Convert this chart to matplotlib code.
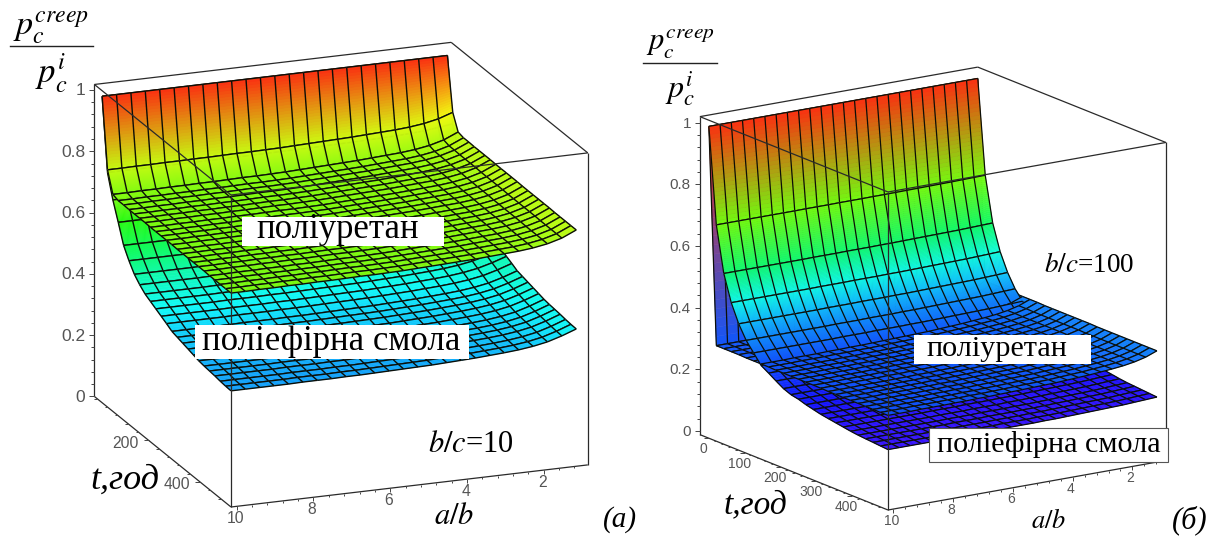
import numpy as np
import matplotlib
matplotlib.use('Agg')
import matplotlib.pyplot as plt
from matplotlib.colors import hsv_to_rgb
from matplotlib.collections import LineCollection
from matplotlib.patches import Rectangle
from mpl_toolkits.mplot3d import proj3d
from mpl_toolkits.mplot3d.art3d import Poly3DCollection, Line3DCollection

plt.rcParams['font.family'] = ['Liberation Serif', 'DejaVu Serif']
plt.rcParams['mathtext.fontset'] = 'stix'

W, H = 1218, 539

# mesh of the maple plots, a/b from 10 down to 1, t from 0 to 500
ab_grid = np.linspace(10, 1, 25)
t_grid = np.linspace(0, 500, 25)

# panel (a) b/c=10 : decay with t at a/b=10, then the t=500 edge along a/b
pu_t_a = [1.0, .774, .708, .702, .702, .701, .701, .701, .701, .700, .700, .700, .700,
          .700, .699, .699, .699, .699, .699, .699, .698, .698, .698, .698, .698]
pu_ab_a = [.698, .698, .699, .699, .700, .700, .701, .701, .702, .703, .703, .704, .705,
           .707, .709, .711, .713, .715, .718, .721, .724, .729, .737, .750, .771]
pe_t_a = [1.0, .765, .69, .631, .57, .534, .504, .484, .468, .458, .448, .438, .428,
          .417, .412, .407, .402, .397, .392, .389, .387, .385, .382, .380, .379]
pe_ab_a = [.379, .379, .379, .379, .379, .380, .380, .380, .381, .381, .382, .383, .384,
           .385, .386, .388, .390, .392, .395, .398, .402, .408, .417, .431, .448]

# panel (b) b/c=100
pu_t_b = [1.0, .298, .298, .298, .298, .297, .297, .297, .297, .296, .296, .296, .296,
          .296, .296, .296, .295, .295, .295, .295, .295, .295, .295, .295, .295]
pu_ab_b = [.295, .295, .295, .296, .296, .296, .297, .297, .298, .298, .299, .300, .301,
           .302, .303, .304, .306, .308, .310, .313, .316, .320, .326, .335, .349]
pe_t_b = [1.0, .690, .542, .457, .398, .354, .323, .292, .277, .261, .246, .236, .231,
          .223, .217, .211, .207, .203, .199, .195, .192, .190, .188, .186, .184]
pe_ab_b = [.184, .184, .184, .184, .184, .184, .184, .184, .185, .185, .185, .186, .186,
           .186, .187, .187, .188, .189, .190, .191, .192, .193, .195, .197, .199]

z_ticks = [0, .2, .4, .6, .8, 1]
z_tick_labels = ['0', '0.2', '0.4', '0.6', '0.8', '1']
ab_ticks = [10, 8, 6, 4, 2]

# hue at some heights
hue_z = [.18, .3, .38, .45, .54, .7, .85, 1.0]
hue_deg = [250, 222, 203, 178, 145, 92, 55, 8]


def surface(zt, zab):
    # t profile scaled along a/b so that the t=500 edge is met, ridge stays at 1
    zt, zab = np.array(zt), np.array(zab)
    k = (1 - zab) / (1 - zab[0])
    return 1 - np.outer(1 - zt, k)


def zcolor(z):
    hue = np.interp(z, hue_z, hue_deg) / 360.
    return hsv_to_rgb(np.stack([hue, np.full_like(hue, .93), np.full_like(hue, .98)], axis=-1))


def drawRow(ax, Z, i, order, mesh_lw):
    # one strip of cells, vertex colours blended across the cell like maple does
    n = 24 if abs(Z[i, 0] - Z[i + 1, 0]) > .03 else 4
    C = zcolor(Z)
    verts, cols = [], []
    for j in range(len(ab_grid) - 1):
        c0 = (C[i, j] + C[i, j + 1]) / 2
        c1 = (C[i + 1, j] + C[i + 1, j + 1]) / 2
        for k in range(n):
            f0, f1 = k / n, (k + 1) / n
            t0 = t_grid[i] + f0 * (t_grid[i + 1] - t_grid[i])
            t1 = t_grid[i] + f1 * (t_grid[i + 1] - t_grid[i])
            z00 = Z[i, j] + f0 * (Z[i + 1, j] - Z[i, j])
            z01 = Z[i, j + 1] + f0 * (Z[i + 1, j + 1] - Z[i, j + 1])
            z10 = Z[i, j] + f1 * (Z[i + 1, j] - Z[i, j])
            z11 = Z[i, j + 1] + f1 * (Z[i + 1, j + 1] - Z[i, j + 1])
            verts.append([(ab_grid[j], t0, z00), (ab_grid[j + 1], t0, z01),
                          (ab_grid[j + 1], t1, z11), (ab_grid[j], t1, z10)])
            cols.append(c0 + (c1 - c0) * (f0 + f1) / 2)
    poly = Poly3DCollection(verts, facecolors=cols, edgecolors=cols, linewidths=.4)
    poly.set_zorder(order)
    ax.add_collection3d(poly, autolim=False)

    segs = []
    for j in range(len(ab_grid)):
        segs.append([(ab_grid[j], t_grid[i], Z[i, j]), (ab_grid[j], t_grid[i + 1], Z[i + 1, j])])
    for j in range(len(ab_grid) - 1):
        for r in (i, i + 1):
            segs.append([(ab_grid[j], t_grid[r], Z[r, j]), (ab_grid[j + 1], t_grid[r], Z[r, j + 1])])
    mesh = Line3DCollection(segs, colors='#0c0f08', linewidths=mesh_lw)
    mesh.set_zorder(order + .5)
    ax.add_collection3d(mesh, autolim=False)


def drawBox(ax, amin, amax, tmin, tmax, zmin, zmax):
    lines = [((amax, tmin, zmax), (amin, tmin, zmax)), ((amin, tmin, zmax), (amin, tmax, zmax)),
             ((amax, tmin, zmax), (amax, tmax, zmax)), ((amax, tmax, zmax), (amin, tmax, zmax)),
             ((amax, tmin, zmin), (amax, tmin, zmax)), ((amax, tmax, zmin), (amax, tmax, zmax)),
             ((amin, tmax, zmin), (amin, tmax, zmax)), ((amax, tmin, zmin), (amax, tmax, zmin)),
             ((amax, tmax, zmin), (amin, tmax, zmin))]
    box = Line3DCollection(lines, colors='#2a2a2a', linewidths=.9)
    box.set_zorder(200)
    ax.add_collection3d(box, autolim=False)


def toPx(ax, a, t, z):
    x2, y2, _ = proj3d.proj_transform(a, t, z, ax.get_proj())
    px = ax.transData.transform((x2, y2))
    return px[0], H - px[1]


def drawTicks(fig, ax, lims, t_ticks, t_minor, t_shift, ab_shift, fs_z, fs, zlab, tlab, ablab):
    amin, amax, tmin, tmax, zmin = lims
    ax.apply_aspect()
    segs = []
    for z in np.arange(0, 1.001, .04):
        major = min(abs(z - v) for v in z_ticks) < 1e-6
        x, y = toPx(ax, amax, tmin, z)
        segs.append([(x, y), (x - (5 if major else 3), y)])
    for t in np.arange(0, tmax - 10, t_minor):
        major = t in t_ticks
        x, y = toPx(ax, amax, t + t_shift, zmin)
        segs.append([(x, y), (x - (5 if major else 2.5), y)])
    for a in np.arange(10, amin + .15, -.4):
        major = min(abs(a - v) for v in ab_ticks) < 1e-6
        x, y = toPx(ax, a - ab_shift, tmax, zmin)
        segs.append([(x, y), (x, y + (4 if major else 2))])
    segs = [[(x / W, 1 - y / H) for x, y in s] for s in segs]
    fig.add_artist(LineCollection(segs, colors='#444444', linewidths=.7, transform=fig.transFigure))
    grey = dict(family='Liberation Sans', color='#555555')
    for z, lab in zip(z_ticks, z_tick_labels):
        x, y = toPx(ax, amax, tmin, z)
        ptext(fig, x + zlab[0], y + zlab[1], lab, fontsize=fs_z, ha='right', **grey)
    for t in t_ticks:
        x, y = toPx(ax, amax, t + t_shift, zmin)
        ptext(fig, x + tlab[0], y + tlab[1], str(t), fontsize=fs, **grey)
    for a in ab_ticks:
        x, y = toPx(ax, a - ab_shift, tmax, zmin)
        ptext(fig, x + ablab[0], y + ablab[1], str(a), fontsize=fs, **grey)


def place(ax, front_x, front_y, z_height):
    # move the axes so the front bottom corner and the box height land on given pixels
    def corners():
        ax.apply_aspect()
        lo, hi = ax.get_xlim3d(), ax.get_ylim3d()
        zl = ax.get_zlim3d()
        return [toPx(ax, lo[1], hi[1], z) for z in zl]
    S = 480.
    ax.set_position([.2, .2, S / W, S / H])
    c0, c1 = corners()
    S = S * z_height / (c0[1] - c1[1])
    ax.set_position([.2, .2, S / W, S / H])
    c0, c1 = corners()
    dx = front_x - c0[0]
    dy = c0[1] - front_y
    ax.set_position([.2 + dx / W, .2 + dy / H, S / W, S / H])


def panel(fig, pu, pe, elev, azim, aspect, tmin, zlim, corner, z_height, mesh_lw):
    amin, amax, tmax = .7, 10, 500
    ax = fig.add_subplot(projection='3d', computed_zorder=False)
    ax.set_proj_type('ortho')
    ax.view_init(elev=elev, azim=azim)
    ax.set_box_aspect(aspect)
    ax.set_xlim(amin, amax, view_margin=0)
    ax.set_ylim(tmin, tmax, view_margin=0)
    ax.set_zlim(zlim[0], zlim[1], view_margin=0)
    ax.set_autoscale_on(False)
    ax.set_axis_off()
    ax.patch.set_alpha(0)
    # back to front along t, the lower sheet of the strip first
    order = 1
    for i in range(len(t_grid) - 1):
        low, up = (pu, pe) if pe[i:i + 2].mean() > pu[i:i + 2].mean() else (pe, pu)
        drawRow(ax, low, i, order, mesh_lw)
        drawRow(ax, up, i, order + 1, mesh_lw)
        order += 2
    drawBox(ax, amin, amax, tmin, tmax, zlim[0], zlim[1])
    place(ax, corner[0], corner[1], z_height)
    return ax, (amin, amax, tmin, tmax, zlim[0])


def ptext(fig, x, y, s, **kw):
    kw.setdefault('ha', 'center')
    kw.setdefault('va', 'center')
    kw.setdefault('zorder', 20)
    fig.text(x / W, 1 - y / H, s, **kw)


def prect(fig, x0, y0, x1, y1, **kw):
    fig.add_artist(Rectangle((x0 / W, 1 - y1 / H), (x1 - x0) / W, (y1 - y0) / H,
                             transform=fig.transFigure, zorder=10, **kw))


fig = plt.figure(figsize=(W / 100., H / 100.), dpi=100)

ax_a, lims_a = panel(fig, surface(pu_t_a, pu_ab_a), surface(pe_t_a, pe_ab_a), 18.0, 69.1,
                     (383, 384, 329), -30, (0, 1.018), (231, 507), 312, 1.0)
drawTicks(fig, ax_a, lims_a, [200, 400], 40, -20, .15, 12.5, 11.3, (-9, 1), (-23, 3), (-1.3, 12))
ax_b, lims_b = panel(fig, surface(pu_t_b, pu_ab_b), surface(pe_t_b, pe_ab_b), 15.5, 56.3,
                     (334, 339, 330), -25, (-.012, 1.02), (888, 510), 318, .9)
drawTicks(fig, ax_b, lims_b, [0, 100, 200, 300, 400], 20, 0, .18, 11, 10, (-9, 1), (-5.5, 11), (-2, 11.5))

# left labels
prect(fig, 242, 216.5, 443.5, 246, facecolor='white', edgecolor='none')
ptext(fig, 337.5, 229, 'поліуретан', fontsize=25)
prect(fig, 194.5, 325, 469, 359, facecolor='white', edgecolor='none')
ptext(fig, 331, 341, 'поліефірна смола', fontsize=25)
ptext(fig, 471, 445, '$b/c$=10', fontsize=22)
ptext(fig, 125, 480, 't,год', fontsize=26, style='italic')
ptext(fig, 454, 517, '$a/b$', fontsize=22)
ptext(fig, 620, 520, '(а)', fontsize=21, style='italic')
ptext(fig, 51, 28, '$p_c^{creep}$', fontsize=24.5)
fig.add_artist(plt.Line2D([10 / W, 93 / W], [1 - 45.7 / H] * 2, color='#222222', lw=1))
ptext(fig, 51, 73, '$p_c^{i}$', fontsize=25)

# right labels
prect(fig, 914, 335, 1091, 363.5, facecolor='white', edgecolor='none')
ptext(fig, 997, 349, 'поліуретан', fontsize=21.7)
prect(fig, 929, 428, 1168, 462, facecolor='white', edgecolor='#555555', linewidth=.8)
ptext(fig, 1049, 445, 'поліефірна смола', fontsize=21.7)
ptext(fig, 1089, 265, '$b/c$=100', fontsize=19.5)
ptext(fig, 755, 505, 't,год', fontsize=24, style='italic')
ptext(fig, 1049, 521, '$a/b$', fontsize=19)
ptext(fig, 1190, 520, '(б)', fontsize=22, style='italic')
ptext(fig, 680, 44, '$p_c^{creep}$', fontsize=22)
fig.add_artist(plt.Line2D([643 / W, 717 / W], [1 - 63 / H] * 2, color='#222222', lw=1))
ptext(fig, 680, 89, '$p_c^{i}$', fontsize=23)

fig.savefig('out.png', dpi=100)
